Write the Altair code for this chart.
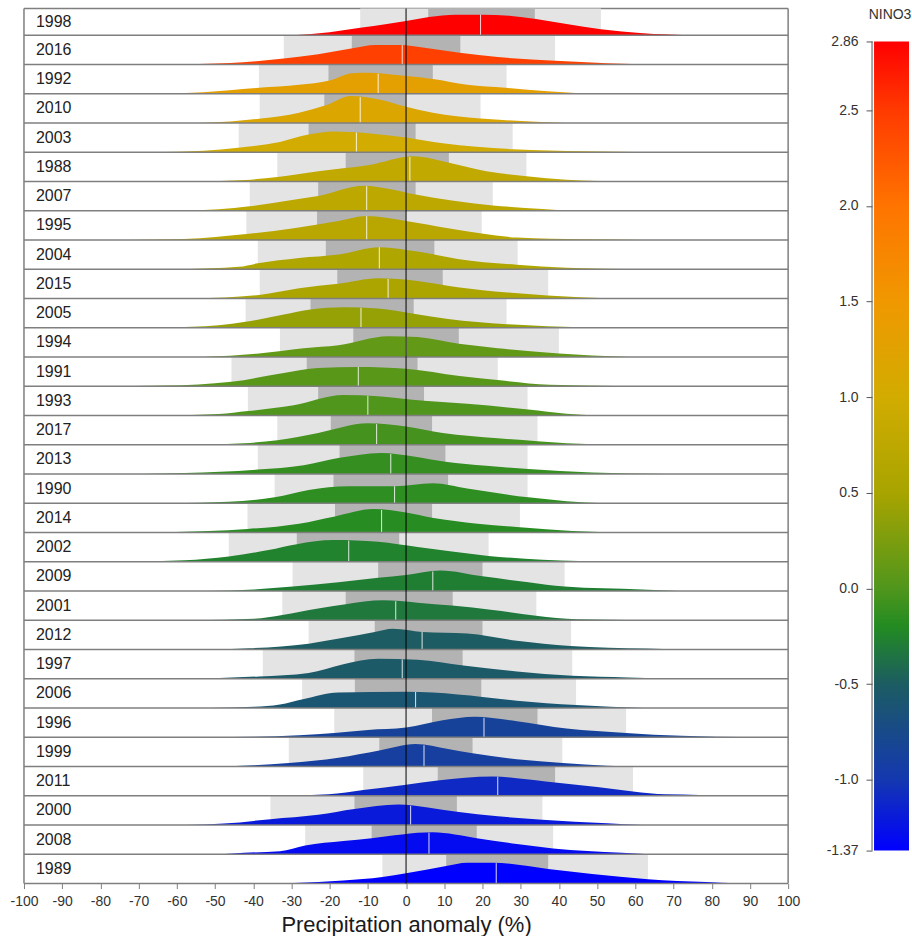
import altair as alt
import pandas as pd
import numpy as np

YEARS = [1998, 2016, 1992, 2010, 2003, 1988, 2007, 1995, 2004, 2015,
         2005, 1994, 1991, 1993, 2017, 2013, 1990, 2014, 2002, 2009,
         2001, 2012, 1997, 2006, 1996, 1999, 2011, 2000, 2008, 1989]
NINO3 = [2.86, 2.45, 1.3, 1.15, 1.0, 0.8, 0.75, 0.7, 0.6, 0.55,
         0.4, 0.1, 0.05, 0.0, -0.05, -0.12, -0.15, -0.18, -0.25, -0.28,
         -0.32, -0.5, -0.53, -0.6, -0.85, -0.9, -1.1, -1.2, -1.3, -1.37]
LIGHT_LO = [-12, -32, -38.5, -38.3, -43.8, -33.7, -40.9, -41.8, -38.8, -38.3,
            -42, -33, -45.7, -41.4, -33.7, -38.8, -34.4, -41.5, -46.4, -29.7,
            -32.4, -25.5, -37.5, -27.2, -18.8, -30.7, -11.2, -35.5, -26.4, -6.2]
LIGHT_HI = [51, 39, 26.3, 19.5, 27.9, 31.5, 22.7, 19.8, 29.2, 37.2,
            26.3, 40, 24, 31.8, 34.4, 31.8, 31.8, 29.8, 21.6, 41.5,
            34.1, 43.2, 43.5, 44.5, 57.6, 40.9, 59.4, 35.7, 38.5, 63.3]
DARK_LO = [5.8, -14.2, -20.3, -21.4, -25.5, -15.8, -23, -23.3, -21, -18,
           -25, -13.8, -26, -23, -19.7, -17.4, -19, -18.6, -28.6, -7.3,
           -15.8, -8.2, -13.5, -13.4, 6.8, -7, 8.3, -13.5, -9, 10.5]
DARK_HI = [33.7, 14.2, 7, 0, 2.5, 11.2, 2.5, 0, 7.4, 9.6,
           2, 13.8, 3, 4.7, 6.8, 10.3, 11, 6.8, -1.8, 20,
           12.2, 20, 14.8, 19.7, 34.4, 17.4, 39, 13.3, 18.5, 37.2]
MEDIAN = [19.5, -1, -7.3, -12, -13, 1, -10.3, -10.3, -7, -4.7,
          -11.8, 0, -12.5, -10, -7.7, -4, -3, -6.4, -15, 7,
          -2.7, 4.2, -1, 2.5, 20.4, 4.7, 24, 1.2, 6, 23.6]

PROFILE_X = [
    [-29.5, -20, -12, -5, 0, 6, 13, 20, 27, 34, 42, 51, 62, 73.6],
    [-62.2, -46, -32, -23, -14, -8, -1, 3, 14, 24, 39, 52.6, 65.6],
    [-65.6, -53, -38.5, -28, -20, -14, -10, 0, 7, 16, 26, 37, 47.4],
    [-54, -46, -38, -28, -21, -14.5, -7, 0, 7, 19.5, 29, 41.5],
    [-66.5, -52.9, -44, -33, -25.5, -19, -10, 0, 9.6, 28, 47, 63.7],
    [-55.5, -42, -33.7, -23, -10, 2, 11, 21, 31.5, 42, 58.5],
    [-59.4, -49, -41, -30.7, -23, -11, -4.7, 2.5, 12, 22.7, 35.7, 43.5],
    [-72.4, -58, -41.8, -29.4, -17.7, -10.5, 0, 11, 19.8, 29, 46.7, 61.7],
    [-58.3, -43.8, -38.8, -28, -17.7, -7, 3, 13.5, 29, 42, 61.7],
    [-55.5, -38.5, -28, -17.7, -7.3, 3, 13.5, 26.6, 37, 54],
    [-63.3, -49, -42, -32, -25, -16.4, -7.3, 2, 11, 26.3, 37, 50],
    [-52.9, -38.5, -26.8, -17.7, -4.7, 3, 13.8, 24, 40, 48.7, 58.5],
    [-79.6, -63, -45.7, -32, -23, -12.5, 0, 14, 24.6, 37.6, 55, 74.1],
    [-63.3, -49, -41.4, -29.4, -16.4, -7.3, 4.7, 16, 32, 42, 50],
    [-54.4, -42.4, -33.7, -23, -10, 0, 9.6, 24, 34.4, 42, 55.9],
    [-68.5, -58, -38.8, -26.8, -17.4, -6.6, 2, 10.3, 21, 32, 48.7, 68.2],
    [-61.3, -46.4, -34.4, -25.5, -15, -3, 7, 16, 32, 42, 52],
    [-64.6, -51.6, -41.5, -28, -18.6, -8.6, 0, 6.8, 18.7, 29.8, 43.5, 54],
    [-73.4, -58, -46.4, -36, -28.6, -19, -7.3, 3, 12, 21.6, 35.7, 54.6],
    [-51.6, -39.8, -29.7, -17.7, -7.3, 0, 9, 20, 32, 41.5, 61.7, 71.5],
    [-55.2, -39.8, -32.4, -23, -15.8, -6, 3, 12, 22.7, 34, 44.8, 61.7],
    [-50.3, -41, -25.5, -16.4, -8.2, -3.4, 4.2, 16, 29, 43, 63, 71.5],
    [-58.3, -38.5, -25.5, -16.4, -7.3, 3, 15, 29, 43.5, 58, 67.6],
    [-50.9, -39.8, -33, -27, -17.7, 0, 7, 20, 29, 44.5, 62.4],
    [-51.6, -39.8, -28, -18.8, -10, 0, 9.6, 18, 29, 42, 57.6, 72, 81, 93.6],
    [-49.2, -40, -30.7, -17.7, -7, 2.5, 11, 17.4, 29, 41, 52.6, 61.7],
    [-32, -20.3, -11.2, 0, 8.3, 22.7, 29, 39, 50, 59.4, 68, 76.7, 88.8],
    [-57.4, -47.7, -35.5, -23, -13.5, -2, 5.7, 13.3, 24, 35.7, 52.6, 61.7],
    [-48.3, -42.4, -33, -26.4, -16.4, -9, 7, 18.5, 29, 38.5, 56.5, 63.7],
    [-74.3, -29.4, -16.4, -6.2, 0, 10.5, 16, 22.7, 37.2, 48.7, 63.3, 78.6, 86.5, 100],
]
PROFILE_H = [
    [0, 0.1, 0.25, 0.38, 0.48, 0.62, 0.7, 0.7, 0.66, 0.55, 0.38, 0.2, 0.06, 0],
    [0, 0.05, 0.2, 0.35, 0.55, 0.66, 0.66, 0.6, 0.4, 0.25, 0.12, 0.04, 0],
    [0, 0.05, 0.2, 0.3, 0.45, 0.7, 0.71, 0.6, 0.5, 0.3, 0.2, 0.08, 0],
    [0, 0.05, 0.15, 0.35, 0.6, 0.92, 0.8, 0.55, 0.35, 0.15, 0.07, 0],
    [0, 0.05, 0.15, 0.35, 0.6, 0.71, 0.65, 0.5, 0.3, 0.1, 0.03, 0],
    [0, 0.05, 0.15, 0.35, 0.55, 0.86, 0.65, 0.35, 0.18, 0.06, 0],
    [0, 0.05, 0.15, 0.35, 0.5, 0.85, 0.75, 0.55, 0.35, 0.18, 0.06, 0],
    [0, 0.03, 0.2, 0.4, 0.65, 0.82, 0.65, 0.4, 0.22, 0.08, 0.02, 0],
    [0, 0.08, 0.2, 0.38, 0.5, 0.75, 0.6, 0.35, 0.15, 0.05, 0],
    [0, 0.12, 0.35, 0.5, 0.69, 0.6, 0.38, 0.2, 0.1, 0],
    [0, 0.08, 0.2, 0.45, 0.62, 0.7, 0.66, 0.48, 0.3, 0.12, 0.05, 0],
    [0, 0.12, 0.3, 0.4, 0.71, 0.68, 0.45, 0.3, 0.12, 0.05, 0],
    [0, 0.02, 0.15, 0.45, 0.62, 0.66, 0.6, 0.35, 0.2, 0.05, 0.01, 0],
    [0, 0.05, 0.15, 0.35, 0.7, 0.66, 0.5, 0.4, 0.2, 0.06, 0],
    [0, 0.05, 0.15, 0.4, 0.73, 0.62, 0.4, 0.22, 0.12, 0.05, 0],
    [0, 0.03, 0.15, 0.3, 0.55, 0.72, 0.6, 0.42, 0.28, 0.17, 0.05, 0],
    [0, 0.05, 0.2, 0.45, 0.58, 0.58, 0.68, 0.5, 0.2, 0.07, 0],
    [0, 0.05, 0.12, 0.3, 0.55, 0.8, 0.68, 0.5, 0.3, 0.18, 0.05, 0],
    [0, 0.05, 0.18, 0.4, 0.6, 0.74, 0.68, 0.5, 0.35, 0.2, 0.07, 0],
    [0, 0.05, 0.15, 0.3, 0.45, 0.55, 0.7, 0.5, 0.3, 0.15, 0.05, 0],
    [0, 0.05, 0.18, 0.4, 0.55, 0.68, 0.6, 0.5, 0.35, 0.15, 0.03, 0],
    [0, 0.04, 0.2, 0.4, 0.6, 0.71, 0.6, 0.55, 0.3, 0.12, 0.03, 0],
    [0, 0.08, 0.2, 0.5, 0.68, 0.65, 0.45, 0.25, 0.1, 0.04, 0],
    [0, 0.04, 0.12, 0.3, 0.53, 0.56, 0.53, 0.38, 0.25, 0.1, 0],
    [0, 0.02, 0.07, 0.15, 0.25, 0.33, 0.58, 0.7, 0.55, 0.3, 0.15, 0.05, 0.02, 0],
    [0, 0.04, 0.12, 0.3, 0.55, 0.77, 0.6, 0.45, 0.25, 0.12, 0.03, 0],
    [0, 0.05, 0.2, 0.38, 0.52, 0.66, 0.6, 0.45, 0.3, 0.15, 0.05, 0.03, 0],
    [0, 0.05, 0.2, 0.35, 0.55, 0.7, 0.6, 0.45, 0.3, 0.18, 0.06, 0],
    [0, 0.05, 0.1, 0.3, 0.45, 0.55, 0.75, 0.55, 0.35, 0.2, 0.05, 0],
    [0, 0.02, 0.1, 0.22, 0.35, 0.6, 0.71, 0.71, 0.5, 0.33, 0.15, 0.05, 0.01, 0],
]

X_TICKS = list(range(-100, 101, 10))
CB_MIN, CB_MAX = -1.37, 2.86
CB_TICKS = [-1.37, -1.0, -0.5, 0.0, 0.5, 1.0, 1.5, 2.0, 2.5, 2.86]
STOP_VALUES = [-1.37, -1.0, -0.5, -0.2, 0.0, 0.5, 1.0, 1.5, 2.0, 2.5, 2.86]
STOP_COLORS = ['#0000ff', '#1438b0', '#1c5c62', '#228b22', '#50961c', '#a8a400',
               '#d2ac00', '#f09800', '#ff7400', '#ff3a00', '#ff0000']

FONT = "Liberation Sans"
N = len(YEARS)
Y_TOP = 29.91  # top row is slightly clipped by the frame
W, H = 765, 876

# ---- build tables ----
area_rows, band_rows, med_rows = [], [], []
for i, yr in enumerate(YEARS):
    base = N - 1 - i
    top = min(base + 1, Y_TOP)
    for x, h in zip(PROFILE_X[i], PROFILE_H[i]):
        area_rows.append(dict(year=str(yr), nino=NINO3[i], x=x, base=base, top=base + h))
    band_rows.append(dict(year=str(yr), base=base, top=top, mid=(base + top) / 2,
                          llo=LIGHT_LO[i], lhi=LIGHT_HI[i], dlo=DARK_LO[i], dhi=DARK_HI[i],
                          label=str(yr), xmin=-100, xmax=100))
    hm = float(np.interp(MEDIAN[i], PROFILE_X[i], PROFILE_H[i]))
    med_rows.append(dict(year=str(yr), med=MEDIAN[i], base=base, mtop=base + hm))

area_df = pd.DataFrame(area_rows)
band_df = pd.DataFrame(band_rows)
med_df = pd.DataFrame(med_rows)

xs = alt.Scale(domain=[-100, 100], nice=False, zero=False)
ys = alt.Scale(domain=[0, Y_TOP], nice=False, zero=False)
color_scale = alt.Scale(domain=STOP_VALUES, range=STOP_COLORS, interpolate="rgb")

X_LABEL_EXPR = "(datum.value < 0 ? '-' : '') + abs(datum.value)"
X_AXIS = alt.Axis(
    values=X_TICKS, title="Precipitation anomaly (%)", domain=False, grid=False,
    ticks=True, tickSize=5, tickColor="#7f7f7f", labelFont=FONT, labelFontSize=14,
    labelColor="#333333", labelPadding=6, labelFlush=False, labelOverlap=False,
    labelExpr=X_LABEL_EXPR,
    titleFont=FONT, titleFontSize=22, titleFontWeight="normal", titleColor="#1a1a1a",
    titlePadding=6)


def X(field):
    return alt.X(field, scale=xs, axis=X_AXIS)


def Y(field):
    return alt.Y(field, scale=ys, axis=None)


base_band = alt.Chart(band_df)
one = pd.DataFrame({"a": [0]})

top_border = alt.Chart(one).mark_rule(color="#7f7f7f", strokeWidth=1.5).encode(
    x=alt.value(0), x2=alt.value(W), y=alt.value(0))

light = base_band.mark_rect(color="#e4e4e4").encode(
    x=X("llo:Q"), x2="lhi:Q", y=Y("base:Q"), y2="top:Q")

dark = base_band.mark_rect(color="#b3b3b3").encode(
    x=X("dlo:Q"), x2="dhi:Q", y=Y("base:Q"), y2="top:Q")

areas = alt.Chart(area_df).mark_area(interpolate="monotone", opacity=1).encode(
    x=X("x:Q"),
    y=alt.Y("top:Q", scale=ys, axis=None, stack=None),
    y2="base:Q",
    detail="year:N",
    color=alt.Color("nino:Q", scale=color_scale, legend=None))

medians = alt.Chart(med_df).mark_rule(color="white", strokeWidth=1, opacity=0.85).encode(
    x=X("med:Q"), y=Y("base:Q"), y2="mtop:Q")

separators = base_band.mark_rule(color="#7f7f7f", strokeWidth=1.5).encode(
    x=X("xmin:Q"), x2="xmax:Q", y=Y("base:Q"))

left_border = alt.Chart(one).mark_rule(color="#7f7f7f", strokeWidth=1.5).encode(
    x=alt.value(0), y=alt.value(0), y2=alt.value(H))
right_border = alt.Chart(one).mark_rule(color="#7f7f7f", strokeWidth=1.5).encode(
    x=alt.value(W), y=alt.value(0), y2=alt.value(H))

zero_line = alt.Chart(pd.DataFrame({"z": [0]})).mark_rule(color="black", strokeWidth=1).encode(
    x=X("z:Q"), y=alt.value(0), y2=alt.value(H))

labels = base_band.mark_text(align="left", baseline="middle", font=FONT, fontSize=16,
                             color="#222222", dx=12).encode(
    x=X("xmin:Q"), y=Y("mid:Q"), text="label:N")

main = alt.layer(top_border, light, dark, areas, medians, separators, left_border,
                 right_border, zero_line, labels).properties(width=W, height=H)

# ---- colour bar ----
CB_PAD_TOP, CB_PAD_BOT = 33, 33
span = CB_MAX - CB_MIN
bar_px = H - CB_PAD_TOP - CB_PAD_BOT
per_px = span / bar_px
cb_scale = alt.Scale(domain=[CB_MIN - CB_PAD_BOT * per_px, CB_MAX + CB_PAD_TOP * per_px],
                     nice=False, zero=False)
grad = {
    "gradient": "linear",
    "x1": 0, "x2": 0, "y1": 1, "y2": 0,
    "stops": [{"offset": (v - CB_MIN) / span, "color": c} for v, c in zip(STOP_VALUES, STOP_COLORS)],
}
CB_LABEL_EXPR = ("(datum.value < 0 ? '-' : '') + "
                 "((abs(datum.value - 2.86) < 0.001 || abs(datum.value + 1.37) < 0.001) ? "
                 "format(abs(datum.value), '.2f') : format(abs(datum.value), '.1f'))")
CB_AXIS = alt.Axis(
    values=CB_TICKS, title=None, domain=False, grid=False, tickSize=6, tickColor="#555555",
    offset=2, labelFont=FONT, labelFontSize=14, labelColor="#333333", labelPadding=8,
    labelOverlap=False, labelExpr=CB_LABEL_EXPR)
cb_df = pd.DataFrame({"lo": [CB_MIN], "hi": [CB_MAX]})
cb_bar = alt.Chart(cb_df).mark_rect(color=grad).encode(
    y=alt.Y("lo:Q", scale=cb_scale, axis=CB_AXIS),
    y2="hi:Q", x=alt.value(0), x2=alt.value(35))
cb_axisline = alt.Chart(cb_df).mark_rule(color="#555555", strokeWidth=1).encode(
    y=alt.Y("lo:Q", scale=cb_scale, axis=CB_AXIS), y2="hi:Q", x=alt.value(-2))
cb_title = alt.Chart(pd.DataFrame({"t": ["NINO3"]})).mark_text(
    font=FONT, fontSize=14, color="#333333", align="center", baseline="middle").encode(
    text="t:N", x=alt.value(16), y=alt.value(7))
colorbar = alt.layer(cb_bar, cb_axisline, cb_title).properties(width=35, height=H)

chart = alt.hconcat(main, colorbar, spacing=26).resolve_scale(color="independent").properties(
    padding={"left": 9, "top": 7, "right": 0, "bottom": 0}
).configure(background="white").configure_view(stroke=None)

chart.save("out.html", embed_options={"renderer": "svg", "actions": False})
